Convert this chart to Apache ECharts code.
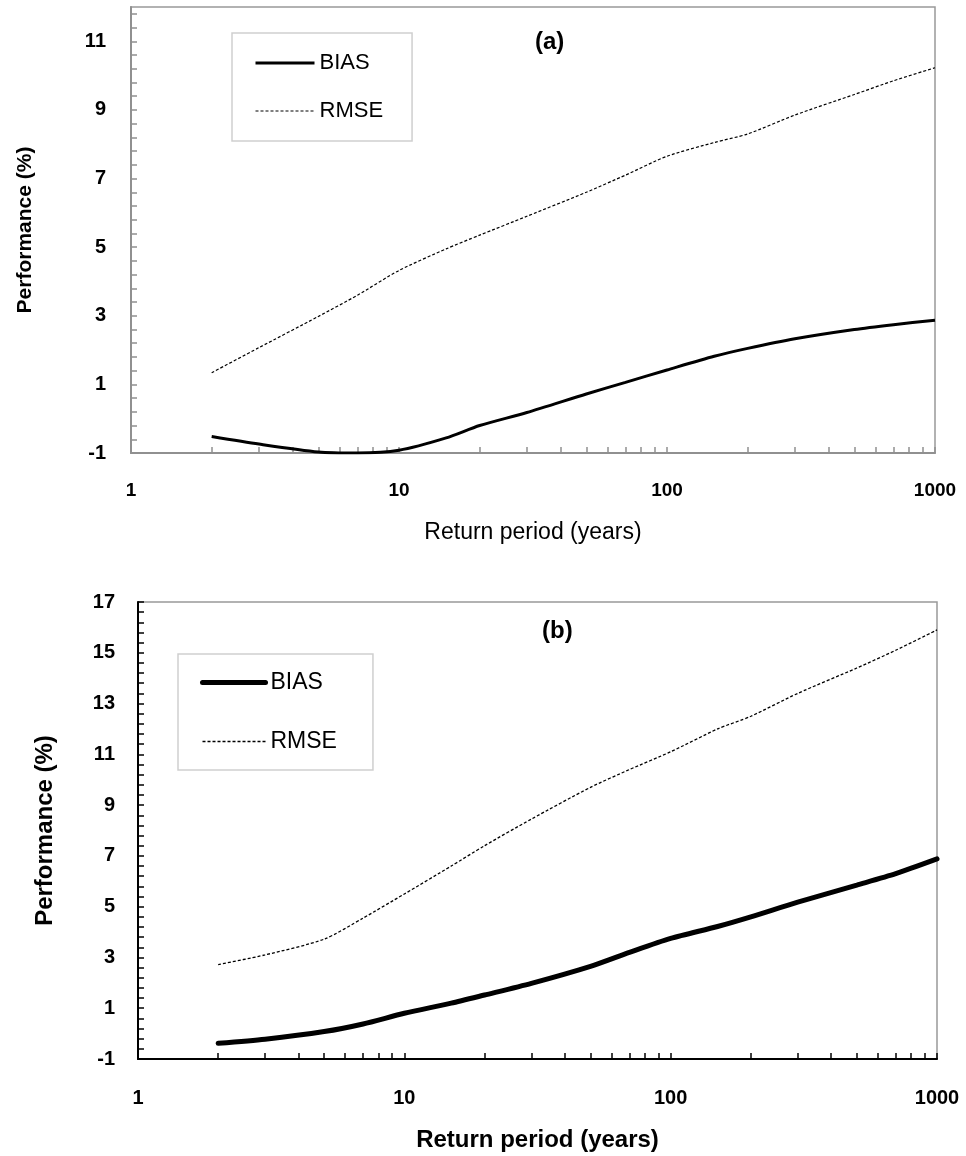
<!DOCTYPE html>
<html>
<head>
<meta charset="utf-8">
<script src="https://cdn.jsdelivr.net/npm/echarts@6/dist/echarts.min.js"></script>
<style>
  html, body { margin: 0; padding: 0; background: #fff; }
  #main { width: 966px; height: 1156px; }
</style>
</head>
<body>
<div id="main"></div>
<script>
// return periods (years)
var periods = [2, 3, 5, 7, 10, 15, 20, 30, 50, 70, 100, 150, 200, 300, 500, 700, 1000];

// panel (a)
var biasA = [-0.52, -0.74, -0.97, -1.0, -0.92, -0.56, -0.2, 0.18, 0.72, 1.06, 1.42, 1.82, 2.05, 2.33, 2.6, 2.74, 2.87];
var rmseA = [1.34, 2.07, 2.98, 3.6, 4.32, 4.95, 5.35, 5.9, 6.6, 7.1, 7.65, 8.05, 8.3, 8.85, 9.45, 9.85, 10.23];

// panel (b)
var biasB = [-0.38, -0.22, 0.08, 0.38, 0.8, 1.2, 1.52, 1.98, 2.65, 3.2, 3.75, 4.22, 4.6, 5.18, 5.85, 6.3, 6.88];
var rmseB = [2.72, 3.1, 3.72, 4.55, 5.5, 6.6, 7.4, 8.45, 9.7, 10.4, 11.1, 12.0, 12.5, 13.4, 14.4, 15.1, 15.9];

var yLabelsA = [-1, 1, 3, 5, 7, 9, 11];
var yLabelsB = [-1, 1, 3, 5, 7, 9, 11, 13, 15, 17];
var xLabels = [1, 10, 100, 1000];

var FONT = "'Liberation Sans', Arial, sans-serif";

function pairs(ys) {
    return periods.map(function (p, i) { return [p, ys[i]]; });
}

// tick helpers: log minor ticks 1..9 per decade, linear ticks every 0.4
var xTicks = [];
for (var d = 1; d < 1000; d *= 10) {
    for (var k = 1; k < 10; k++) xTicks.push(d * k);
}
xTicks.push(1000);

function yTicks(min, max) {
    var out = [];
    for (var i = 0; min + i * 0.4 <= max + 1e-9; i++) {
        out.push(Math.round((min + i * 0.4) * 10) / 10);
    }
    return out;
}

function xAxisCfg(gridIndex, axisColor, labelSize, margin, name, nameStyle, nameGap) {
    return {
        type: 'log', logBase: 10, gridIndex: gridIndex, min: 1, max: 1000,
        axisLine: { show: true, onZero: false, lineStyle: { color: axisColor, width: 2 } },
        axisTick: { show: true, inside: true, length: 6, customValues: xTicks,
            lineStyle: { color: axisColor, width: 1.5 } },
        axisLabel: { customValues: xLabels, margin: margin, color: '#000',
            fontFamily: FONT, fontWeight: 'bold', fontSize: labelSize,
            formatter: function (v) { return String(Math.round(v)); } },
        splitLine: { show: false },
        minorTick: { show: false },
        name: name, nameLocation: 'middle', nameGap: nameGap,
        nameTextStyle: Object.assign({ color: '#000', fontFamily: FONT, verticalAlign: 'middle' }, nameStyle)
    };
}

function yAxisCfg(gridIndex, max, labels, axisColor, labelSize, margin, nameStyle, nameGap) {
    return {
        type: 'value', gridIndex: gridIndex, min: -1, max: max,
        axisLine: { show: true, onZero: false, lineStyle: { color: axisColor, width: 2 } },
        axisTick: { show: true, inside: true, length: 6, customValues: yTicks(-1, max),
            lineStyle: { color: axisColor, width: 1.5 } },
        axisLabel: { customValues: labels, margin: margin, color: '#000',
            fontFamily: FONT, fontWeight: 'bold', fontSize: labelSize },
        splitLine: { show: false },
        name: 'Performance (%)', nameLocation: 'middle', nameGap: nameGap, nameRotate: 90,
        nameTextStyle: Object.assign({ color: '#000', fontFamily: FONT, verticalAlign: 'middle' }, nameStyle)
    };
}

function legendCfg(items, left, top, padding, itemWidth, itemGap, fontSize) {
    return {
        data: items, orient: 'vertical', left: left, top: top,
        padding: padding, itemWidth: itemWidth, itemHeight: 20, itemGap: itemGap,
        borderColor: '#cfcfcf', borderWidth: 1.5, backgroundColor: '#fff',
        selectedMode: false,
        // line only, no marker in the key
        itemStyle: { opacity: 0 },
        formatter: function (n) { return n.split('_')[0]; },
        textStyle: { color: '#000', fontFamily: FONT, fontSize: fontSize }
    };
}

var myChart = echarts.init(document.getElementById('main'));

myChart.setOption({
    backgroundColor: '#fff',
    animation: false,
    title: [
        { text: '(a)', left: 535, top: 30, padding: 0,
          textStyle: { fontFamily: FONT, fontWeight: 'bold', fontSize: 24, color: '#000' } },
        { text: '(b)', left: 542, top: 619, padding: 0,
          textStyle: { fontFamily: FONT, fontWeight: 'bold', fontSize: 24, color: '#000' } }
    ],
    grid: [
        { left: 131, top: 7, width: 804, height: 446, show: true, borderColor: '#999', borderWidth: 1.5 },
        { left: 138, top: 602, width: 799, height: 457, show: true, borderColor: '#999', borderWidth: 1.5 }
    ],
    xAxis: [
        xAxisCfg(0, '#909090', 19, 28, 'Return period (years)', { fontSize: 23, fontWeight: 'normal' }, 80),
        xAxisCfg(1, '#000', 20, 29, 'Return period (years)', { fontSize: 24, fontWeight: 'bold' }, 81)
    ],
    yAxis: [
        yAxisCfg(0, 12, yLabelsA, '#909090', 20, 25, { fontSize: 21, fontWeight: 'bold' }, 106),
        yAxisCfg(1, 17, yLabelsB, '#000', 20, 23, { fontSize: 24, fontWeight: 'bold' }, 93)
    ],
    legend: [
        legendCfg([
            { name: 'BIAS_a', lineStyle: { width: 3 } },
            { name: 'RMSE_a', lineStyle: { width: 1.2 } }
        ], 232, 33, [19, 29, 19, 22], 59, 26, 22),
        legendCfg([
            { name: 'BIAS_b', lineStyle: { width: 5, cap: 'round' } },
            { name: 'RMSE_b', lineStyle: { width: 1.3 } }
        ], 178, 654, [17, 36, 17, 22], 63, 36, 23)
    ],
    graphic: [
        // the source figure's panel (a) axis title is cut off at the bottom
        { type: 'rect', left: 300, top: 547, z: 100, silent: true,
          shape: { width: 460, height: 14 }, style: { fill: '#fff' } }
    ],
    series: [
        { name: 'BIAS_a', type: 'line', xAxisIndex: 0, yAxisIndex: 0, data: pairs(biasA),
          smooth: 0.25, symbol: 'none', color: '#000',
          lineStyle: { color: '#000', width: 3 } },
        { name: 'RMSE_a', type: 'line', xAxisIndex: 0, yAxisIndex: 0, data: pairs(rmseA),
          smooth: 0.25, symbol: 'none', color: '#000',
          lineStyle: { color: '#000', width: 1.2, type: [3, 2] } },
        { name: 'BIAS_b', type: 'line', xAxisIndex: 1, yAxisIndex: 1, data: pairs(biasB),
          smooth: 0.25, symbol: 'none', color: '#000',
          lineStyle: { color: '#000', width: 5, cap: 'round' } },
        { name: 'RMSE_b', type: 'line', xAxisIndex: 1, yAxisIndex: 1, data: pairs(rmseB),
          smooth: 0.25, symbol: 'none', color: '#000',
          lineStyle: { color: '#000', width: 1.3, type: [3, 2] } }
    ]
});

window.addEventListener('resize', function () {
    myChart.resize();
});
</script>
</body>
</html>
